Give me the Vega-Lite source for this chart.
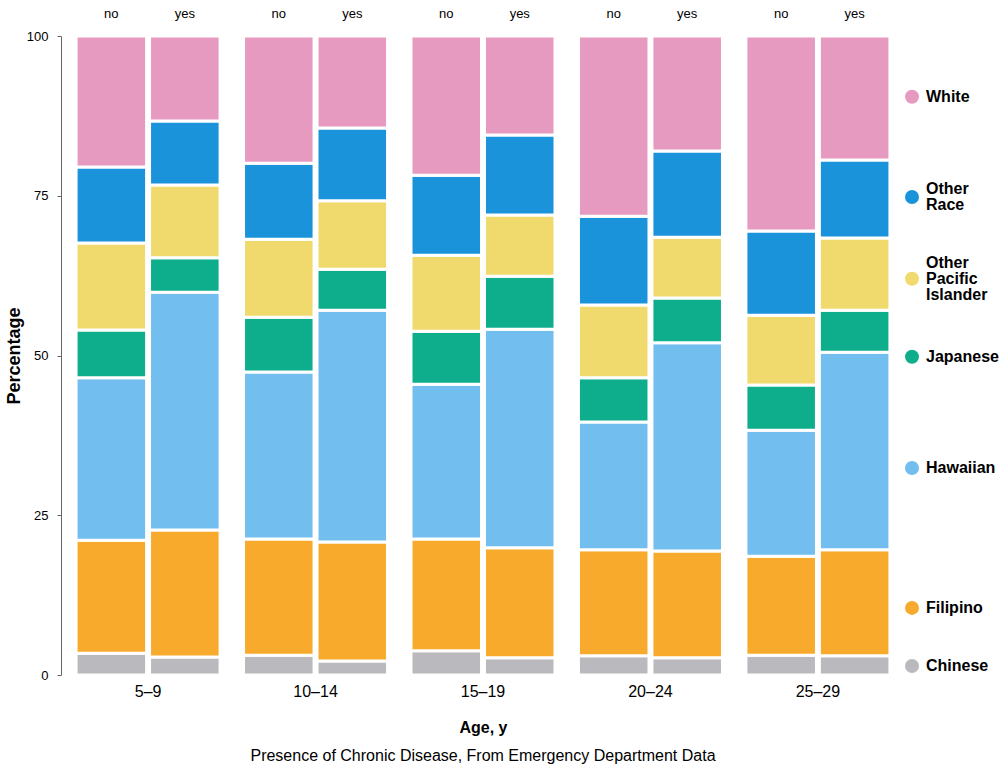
{
  "$schema": "https://vega.github.io/schema/vega-lite/v6.json",
  "background": "white",
  "padding": {"left": 5, "top": 8, "right": 0, "bottom": 4},
  "config": {
    "font": "Liberation Sans",
    "view": {"stroke": null},
    "concat": {"spacing": 0}
  },
  "datasets": {
    "shares": [
      {"age": "5–9", "chronic": "no", "race": "Chinese", "pct": 3.4},
      {"age": "5–9", "chronic": "no", "race": "Filipino", "pct": 17.7},
      {"age": "5–9", "chronic": "no", "race": "Hawaiian", "pct": 25.4},
      {"age": "5–9", "chronic": "no", "race": "Japanese", "pct": 7.5},
      {"age": "5–9", "chronic": "no", "race": "Other Pacific Islander", "pct": 13.6},
      {"age": "5–9", "chronic": "no", "race": "Other Race", "pct": 11.9},
      {"age": "5–9", "chronic": "no", "race": "White", "pct": 20.5},
      {"age": "5–9", "chronic": "yes", "race": "Chinese", "pct": 2.8},
      {"age": "5–9", "chronic": "yes", "race": "Filipino", "pct": 19.9},
      {"age": "5–9", "chronic": "yes", "race": "Hawaiian", "pct": 37.2},
      {"age": "5–9", "chronic": "yes", "race": "Japanese", "pct": 5.4},
      {"age": "5–9", "chronic": "yes", "race": "Other Pacific Islander", "pct": 11.4},
      {"age": "5–9", "chronic": "yes", "race": "Other Race", "pct": 10.0},
      {"age": "5–9", "chronic": "yes", "race": "White", "pct": 13.3},
      {"age": "10–14", "chronic": "no", "race": "Chinese", "pct": 3.1},
      {"age": "10–14", "chronic": "no", "race": "Filipino", "pct": 18.2},
      {"age": "10–14", "chronic": "no", "race": "Hawaiian", "pct": 26.1},
      {"age": "10–14", "chronic": "no", "race": "Japanese", "pct": 8.6},
      {"age": "10–14", "chronic": "no", "race": "Other Pacific Islander", "pct": 12.2},
      {"age": "10–14", "chronic": "no", "race": "Other Race", "pct": 11.9},
      {"age": "10–14", "chronic": "no", "race": "White", "pct": 19.9},
      {"age": "10–14", "chronic": "yes", "race": "Chinese", "pct": 2.2},
      {"age": "10–14", "chronic": "yes", "race": "Filipino", "pct": 18.6},
      {"age": "10–14", "chronic": "yes", "race": "Hawaiian", "pct": 36.3},
      {"age": "10–14", "chronic": "yes", "race": "Japanese", "pct": 6.4},
      {"age": "10–14", "chronic": "yes", "race": "Other Pacific Islander", "pct": 10.7},
      {"age": "10–14", "chronic": "yes", "race": "Other Race", "pct": 11.4},
      {"age": "10–14", "chronic": "yes", "race": "White", "pct": 14.4},
      {"age": "15–19", "chronic": "no", "race": "Chinese", "pct": 3.8},
      {"age": "15–19", "chronic": "no", "race": "Filipino", "pct": 17.5},
      {"age": "15–19", "chronic": "no", "race": "Hawaiian", "pct": 24.2},
      {"age": "15–19", "chronic": "no", "race": "Japanese", "pct": 8.3},
      {"age": "15–19", "chronic": "no", "race": "Other Pacific Islander", "pct": 11.9},
      {"age": "15–19", "chronic": "no", "race": "Other Race", "pct": 12.5},
      {"age": "15–19", "chronic": "no", "race": "White", "pct": 21.8},
      {"age": "15–19", "chronic": "yes", "race": "Chinese", "pct": 2.7},
      {"age": "15–19", "chronic": "yes", "race": "Filipino", "pct": 17.2},
      {"age": "15–19", "chronic": "yes", "race": "Hawaiian", "pct": 34.2},
      {"age": "15–19", "chronic": "yes", "race": "Japanese", "pct": 8.3},
      {"age": "15–19", "chronic": "yes", "race": "Other Pacific Islander", "pct": 9.6},
      {"age": "15–19", "chronic": "yes", "race": "Other Race", "pct": 12.5},
      {"age": "15–19", "chronic": "yes", "race": "White", "pct": 15.5},
      {"age": "20–24", "chronic": "no", "race": "Chinese", "pct": 3.0},
      {"age": "20–24", "chronic": "no", "race": "Filipino", "pct": 16.6},
      {"age": "20–24", "chronic": "no", "race": "Hawaiian", "pct": 20.0},
      {"age": "20–24", "chronic": "no", "race": "Japanese", "pct": 6.9},
      {"age": "20–24", "chronic": "no", "race": "Other Pacific Islander", "pct": 11.4},
      {"age": "20–24", "chronic": "no", "race": "Other Race", "pct": 13.9},
      {"age": "20–24", "chronic": "no", "race": "White", "pct": 28.2},
      {"age": "20–24", "chronic": "yes", "race": "Chinese", "pct": 2.7},
      {"age": "20–24", "chronic": "yes", "race": "Filipino", "pct": 16.7},
      {"age": "20–24", "chronic": "yes", "race": "Hawaiian", "pct": 32.6},
      {"age": "20–24", "chronic": "yes", "race": "Japanese", "pct": 7.0},
      {"age": "20–24", "chronic": "yes", "race": "Other Pacific Islander", "pct": 9.5},
      {"age": "20–24", "chronic": "yes", "race": "Other Race", "pct": 13.5},
      {"age": "20–24", "chronic": "yes", "race": "White", "pct": 18.0},
      {"age": "25–29", "chronic": "no", "race": "Chinese", "pct": 3.1},
      {"age": "25–29", "chronic": "no", "race": "Filipino", "pct": 15.5},
      {"age": "25–29", "chronic": "no", "race": "Hawaiian", "pct": 19.7},
      {"age": "25–29", "chronic": "no", "race": "Japanese", "pct": 7.1},
      {"age": "25–29", "chronic": "no", "race": "Other Pacific Islander", "pct": 10.9},
      {"age": "25–29", "chronic": "no", "race": "Other Race", "pct": 13.2},
      {"age": "25–29", "chronic": "no", "race": "White", "pct": 30.5},
      {"age": "25–29", "chronic": "yes", "race": "Chinese", "pct": 3.0},
      {"age": "25–29", "chronic": "yes", "race": "Filipino", "pct": 16.6},
      {"age": "25–29", "chronic": "yes", "race": "Hawaiian", "pct": 30.9},
      {"age": "25–29", "chronic": "yes", "race": "Japanese", "pct": 6.6},
      {"age": "25–29", "chronic": "yes", "race": "Other Pacific Islander", "pct": 11.3},
      {"age": "25–29", "chronic": "yes", "race": "Other Race", "pct": 12.2},
      {"age": "25–29", "chronic": "yes", "race": "White", "pct": 19.4}
    ],
    "keys": [
      {"race": "White", "label": "White", "at": 90.5},
      {"race": "Other Race", "label": "Other\nRace", "at": 74.8},
      {"race": "Other Pacific Islander", "label": "Other\nPacific\nIslander", "at": 62.0},
      {"race": "Japanese", "label": "Japanese", "at": 49.8},
      {"race": "Hawaiian", "label": "Hawaiian", "at": 32.4},
      {"race": "Filipino", "label": "Filipino", "at": 10.5},
      {"race": "Chinese", "label": "Chinese", "at": 1.4}
    ]
  },
  "hconcat": [
    {
      "width": 844,
      "height": 639,
      "data": {"name": "shares"},
      "title": {
        "text": "Presence of Chronic Disease, From Emergency Department Data",
        "orient": "bottom",
        "fontSize": 16,
        "fontWeight": "normal",
        "color": "black",
        "offset": 13
      },
      "layer": [
        {
          "transform": [
            {"calculate": "indexof(['Chinese', 'Filipino', 'Hawaiian', 'Japanese', 'Other Pacific Islander', 'Other Race', 'White'], datum.race)", "as": "rank"}
          ],
          "mark": {"type": "bar", "stroke": "white", "strokeWidth": 3},
          "encoding": {
            "x": {
              "field": "age", "type": "nominal", "sort": null,
              "scale": {"paddingInner": 0.14, "paddingOuter": 0.09},
              "axis": {
                "title": "Age, y", "titleFontSize": 16, "titleFontWeight": "bold",
                "titleColor": "black", "titlePadding": 20, "labelAngle": 0, "labelFontSize": 16,
                "labelColor": "black", "domain": false, "ticks": false, "labelPadding": 8
              }
            },
            "xOffset": {
              "field": "chronic", "type": "nominal",
              "scale": {"paddingInner": 0.04}
            },
            "y": {
              "field": "pct", "type": "quantitative", "stack": "zero",
              "scale": {"domain": [0, 100]},
              "axis": {
                "title": "Percentage", "titleFontSize": 18, "titleFontWeight": "bold",
                "titleColor": "black", "titlePadding": 3,
                "values": [0, 25, 50, 75, 100], "grid": false,
                "labelFontSize": 13, "labelColor": "black", "labelPadding": 9,
                "domainColor": "#666", "tickColor": "#666", "tickSize": 4
              }
            },
            "order": {"field": "rank", "type": "quantitative", "sort": "ascending"},
            "color": {
              "field": "race", "type": "nominal",
              "scale": {
                "domain": ["Chinese", "Filipino", "Hawaiian", "Japanese", "Other Pacific Islander", "Other Race", "White"],
                "range": ["#BAB9BE", "#F7AA2B", "#72BEEE", "#0EAE8D", "#F0DA6E", "#1A93DA", "#E69ABF"]
              },
              "legend": null
            }
          }
        },
        {
          "transform": [{"filter": "datum.race === 'White'"}],
          "mark": {"type": "text", "fontSize": 13, "color": "black", "baseline": "middle", "dy": -22},
          "encoding": {
            "x": {"field": "age", "type": "nominal", "sort": null},
            "xOffset": {"field": "chronic", "type": "nominal"},
            "y": {"datum": 100},
            "text": {"field": "chronic"}
          }
        }
      ]
    },
    {
      "width": 94,
      "height": 639,
      "data": {"name": "keys"},
      "encoding": {
        "x": {"datum": 0, "type": "quantitative", "scale": {"domain": [0, 20]}, "axis": null},
        "y": {"field": "at", "type": "quantitative", "scale": {"domain": [0, 100]}, "axis": null}
      },
      "layer": [
        {
          "mark": {"type": "point", "filled": true, "opacity": 1, "size": 196, "shape": "circle"},
          "encoding": {
            "color": {
              "field": "race", "type": "nominal",
              "scale": {
                "domain": ["Chinese", "Filipino", "Hawaiian", "Japanese", "Other Pacific Islander", "Other Race", "White"],
                "range": ["#BAB9BE", "#F7AA2B", "#72BEEE", "#0EAE8D", "#F0DA6E", "#1A93DA", "#E69ABF"]
              },
              "legend": null
            }
          }
        },
        {
          "transform": [{"filter": "datum.race !== 'Other Race' && datum.race !== 'Other Pacific Islander'"}],
          "mark": {
            "type": "text", "align": "left", "baseline": "middle", "dx": 14,
            "fontSize": 16, "fontWeight": "bold", "color": "black"
          },
          "encoding": {"text": {"field": "label"}}
        },
        {
          "transform": [{"filter": "datum.race === 'Other Race'"}],
          "mark": {
            "type": "text", "align": "left", "baseline": "middle", "dx": 14, "dy": -8,
            "fontSize": 16, "fontWeight": "bold", "color": "black",
            "lineBreak": "\n", "lineHeight": 16
          },
          "encoding": {"text": {"field": "label"}}
        },
        {
          "transform": [{"filter": "datum.race === 'Other Pacific Islander'"}],
          "mark": {
            "type": "text", "align": "left", "baseline": "middle", "dx": 14, "dy": -16,
            "fontSize": 16, "fontWeight": "bold", "color": "black",
            "lineBreak": "\n", "lineHeight": 16
          },
          "encoding": {"text": {"field": "label"}}
        }
      ]
    }
  ]
}
